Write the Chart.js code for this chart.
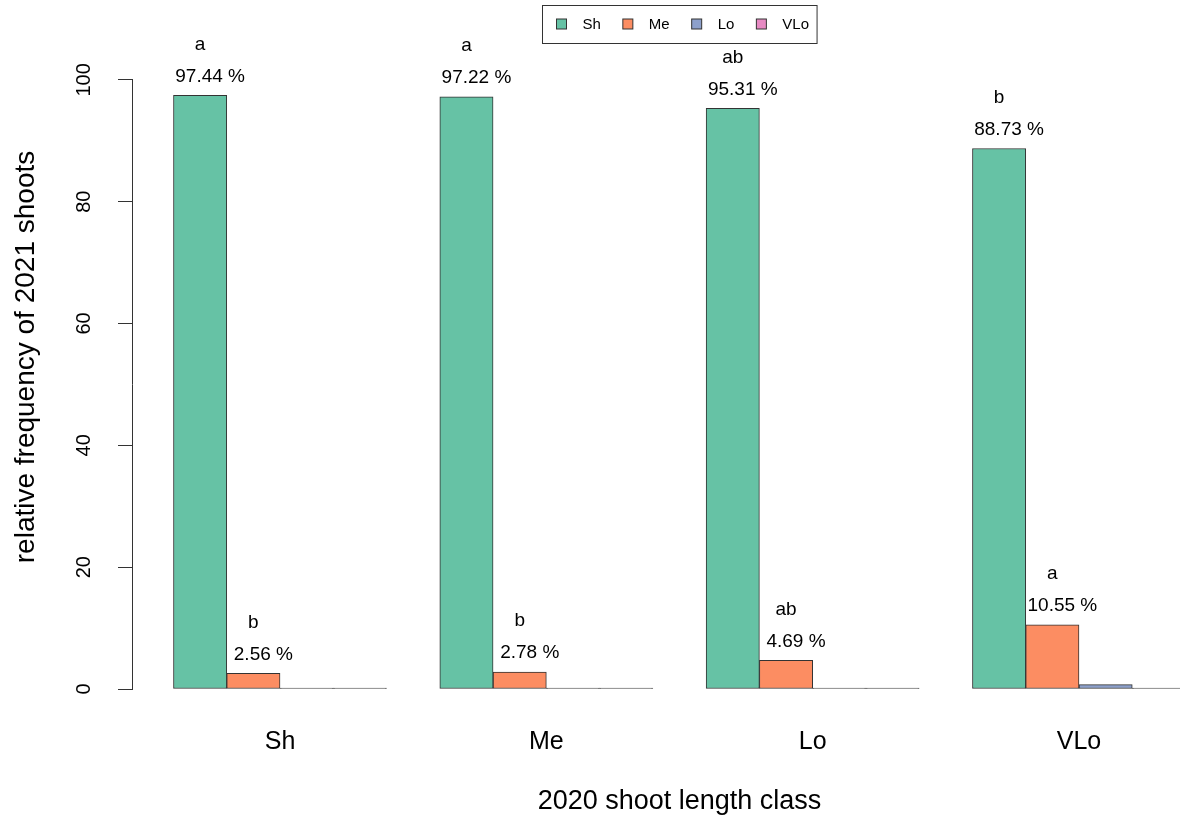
<!DOCTYPE html>
<html>
<head>
<meta charset="utf-8">
<script src="https://cdn.jsdelivr.net/npm/chart.js@4/dist/chart.umd.min.js"></script>
<style>
  html, body { margin: 0; padding: 0; background: #fff; overflow: hidden; }
  canvas { display: block; }
</style>
</head>
<body>
<canvas id="chart" width="1230" height="821"></canvas>
<script>
// 2020 shoot length class groups
const classes = ["Sh", "Me", "Lo", "VLo"];
// relative frequency (%) of 2021 shoot classes within each 2020 class
const shValues = [97.44, 97.22, 95.31, 88.73];
const meValues = [2.56, 2.78, 4.69, 10.55];
const loValues = [0, 0, 0, 0.72];
const vloValues = [0, 0, 0, 0];
// significance letters over the Sh and Me bars
const shLetters = ["a", "a", "ab", "b"];
const meLetters = ["b", "b", "ab", "a"];
const yTicks = [0, 20, 40, 60, 80, 100];

const colors = ["#66C2A5", "#FC8D62", "#8DA0CB", "#E78AC3"];
const family = "'Liberation Sans', Arial, sans-serif";

const series = [
  { label: "Sh", values: shValues, letters: shLetters },
  { label: "Me", values: meValues, letters: meLetters },
  { label: "Lo", values: loValues, letters: null },
  { label: "VLo", values: vloValues, letters: null },
];

// R barplot style: bar width 1, one unit gap before each group
const nSeries = series.length;
const groupStep = nSeries + 1;
const barX = (g, s) => 1 + g * groupStep + s + 0.5;
const groupCenter = g => 1 + g * groupStep + nSeries / 2;

const datasets = series.map((sr, s) => ({
  label: sr.label,
  data: sr.values.map((v, g) => ({ x: barX(g, s), y: v })),
  // zero-height bars show only their outline in R
  backgroundColor: c => (c.raw && c.raw.y === 0 ? "#333" : colors[s]),
  borderColor: "#333",
  borderWidth: 1,
  borderSkipped: false,
  minBarLength: 1,
  grouped: false,
  barPercentage: 1,
  categoryPercentage: 1,
}));

const labelPlugin = {
  id: "barLabels",
  afterDatasetsDraw(chart) {
    const ctx = chart.ctx;
    ctx.save();
    ctx.fillStyle = "#000";
    ctx.textAlign = "center";
    ctx.textBaseline = "middle";
    ctx.font = "19px " + family;
    series.forEach((sr, s) => {
      if (!sr.letters) return;
      const meta = chart.getDatasetMeta(s);
      meta.data.forEach((bar, g) => {
        ctx.fillText(sr.values[g].toFixed(2) + " %", bar.x + 10, bar.y - 19);
        ctx.fillText(sr.letters[g], bar.x, bar.y - 51);
      });
    });
    ctx.restore();
  },
  afterDraw(chart) {
    const ctx = chart.ctx;
    const y = chart.scales.y;
    ctx.save();
    // y axis line from 0 to 100 only
    ctx.strokeStyle = "#333";
    ctx.lineWidth = 1;
    ctx.beginPath();
    ctx.moveTo(y.right - 0.5, y.getPixelForValue(yTicks[0]));
    ctx.lineTo(y.right - 0.5, y.getPixelForValue(yTicks[yTicks.length - 1]));
    ctx.stroke();

    // legend box
    ctx.font = "15px " + family;
    const widths = series.map(sr => ctx.measureText(sr.label).width);
    const total = 14 + widths.reduce((a, w) => a + 26 + w, 0) + 22 * (nSeries - 1) + 8;
    const cx = (chart.chartArea.left + chart.chartArea.right) / 2;
    let x = Math.round(cx - total / 2) + 0.5;
    const top = 5.5, h = 38;
    ctx.strokeStyle = "#333";
    ctx.strokeRect(x, top, total, h);
    x += 14;
    ctx.textBaseline = "middle";
    ctx.textAlign = "left";
    series.forEach((sr, s) => {
      ctx.fillStyle = colors[s];
      ctx.fillRect(x, top + 13.5, 10, 10);
      ctx.strokeRect(x, top + 13.5, 10, 10);
      ctx.fillStyle = "#000";
      ctx.fillText(sr.label, x + 26, top + h / 2);
      x += 26 + widths[s] + 22;
    });
    ctx.restore();
  },
};

new Chart(document.getElementById("chart"), {
  type: "bar",
  data: { datasets },
  options: {
    responsive: false,
    animation: false,
    layout: { padding: { top: 25, right: 4, left: 0, bottom: 0 } },
    plugins: { legend: { display: false }, tooltip: { enabled: false } },
    scales: {
      x: {
        type: "linear",
        offset: false,
        min: 0.24,
        max: 1 + classes.length * groupStep - 1 + 0.76,
        afterBuildTicks: scale => { scale.ticks = classes.map((c, g) => ({ value: groupCenter(g) })); },
        afterFit: scale => { scale.height = 132; scale.paddingLeft = 0; scale.paddingRight = 0; },
        grid: { display: false },
        border: { display: false },
        ticks: {
          autoSkip: false,
          padding: 30,
          color: "#000",
          font: { size: 25, family },
          callback: (v, i) => classes[i],
        },
        title: {
          display: true,
          text: "2020 shoot length class",
          color: "#000",
          font: { size: 27, family },
          padding: { top: 0, bottom: 3 },
        },
      },
      y: {
        min: 0,
        max: 109,
        afterBuildTicks: scale => { scale.ticks = yTicks.map(v => ({ value: v })); },
        afterFit: scale => { scale.width = 133; scale.paddingTop = 0; scale.paddingBottom = 0; },
        grid: { drawOnChartArea: false, drawTicks: true, tickLength: 15, color: "#333" },
        border: { display: false },
        ticks: {
          minRotation: 90,
          maxRotation: 90,
          crossAlign: "center",
          padding: 17,
          color: "#000",
          font: { size: 20, family },
        },
        title: {
          display: true,
          text: "relative frequency of 2021 shoots",
          color: "#000",
          font: { size: 28, family },
          padding: { top: 9, bottom: 0 },
        },
      },
    },
  },
  plugins: [labelPlugin],
});
</script>
</body>
</html>
